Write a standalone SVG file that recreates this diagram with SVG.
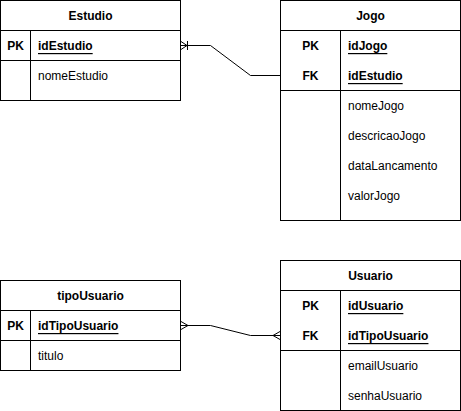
<svg xmlns="http://www.w3.org/2000/svg" width="461" height="411" viewBox="0 0 461 411">
<style>
.box{fill:#fff;stroke:#000;stroke-width:1}
.ln{stroke:#000;stroke-width:1;fill:none}
text{font-family:"Liberation Sans",Arial,sans-serif;font-size:12px;fill:#000;dominant-baseline:central}
.h{font-weight:bold;text-anchor:middle}
.k{font-weight:bold;text-anchor:middle}
.pk{font-weight:bold;text-decoration:underline}
</style>
<rect width="461" height="411" fill="#fff"/>
<g id="connectors">
<polyline class="ln" points="180.5,45.5 210.5,45.5 250.5,75.5 280.5,75.5"/>
<polyline class="ln" points="181,41.5 187,45.5 181,49.5"/>
<line class="ln" x1="187.5" y1="41" x2="187.5" y2="50"/>
<polyline class="ln" points="180.5,325.5 210.5,325.5 250.5,335.5 280.5,335.5"/>
<polyline class="ln" points="181,321.5 188,325.5 181,329.5"/>
<polyline class="ln" points="280,331.5 273,335.5 280,339.5"/>
</g>
<g id="Estudio">
<rect class="box" x="0.5" y="0.5" width="180" height="100"/>
<line class="ln" x1="0.5" y1="30.5" x2="180.5" y2="30.5"/>
<line class="ln" x1="0.5" y1="60.5" x2="180.5" y2="60.5"/>
<line class="ln" x1="30.5" y1="30.5" x2="30.5" y2="100.5"/>
<text class="h" x="90.5" y="16">Estudio</text>
<text class="k" x="15.5" y="46">PK</text>
<text class="pk" x="38" y="46">idEstudio</text>
<text x="38" y="76">nomeEstudio</text>
</g>
<g id="Jogo">
<rect class="box" x="280.5" y="0.5" width="180" height="220"/>
<line class="ln" x1="280.5" y1="30.5" x2="460.5" y2="30.5"/>
<line class="ln" x1="280.5" y1="90.5" x2="460.5" y2="90.5"/>
<line class="ln" x1="340.5" y1="30.5" x2="340.5" y2="220.5"/>
<text class="h" x="370.5" y="16">Jogo</text>
<text class="k" x="310.5" y="46">PK</text>
<text class="pk" x="348" y="46">idJogo</text>
<text class="k" x="310.5" y="76">FK</text>
<text class="pk" x="348" y="76">idEstudio</text>
<text x="348" y="106">nomeJogo</text>
<text x="348" y="136">descricaoJogo</text>
<text x="348" y="166">dataLancamento</text>
<text x="348" y="196">valorJogo</text>
</g>
<g id="tipoUsuario">
<rect class="box" x="0.5" y="280.5" width="180" height="90"/>
<line class="ln" x1="0.5" y1="310.5" x2="180.5" y2="310.5"/>
<line class="ln" x1="0.5" y1="340.5" x2="180.5" y2="340.5"/>
<line class="ln" x1="30.5" y1="310.5" x2="30.5" y2="370.5"/>
<text class="h" x="90.5" y="296">tipoUsuario</text>
<text class="k" x="15.5" y="326">PK</text>
<text class="pk" x="38" y="326">idTipoUsuario</text>
<text x="38" y="356">titulo</text>
</g>
<g id="Usuario">
<rect class="box" x="280.5" y="260.5" width="180" height="150"/>
<line class="ln" x1="280.5" y1="290.5" x2="460.5" y2="290.5"/>
<line class="ln" x1="280.5" y1="350.5" x2="460.5" y2="350.5"/>
<line class="ln" x1="340.5" y1="290.5" x2="340.5" y2="410.5"/>
<text class="h" x="370.5" y="276">Usuario</text>
<text class="k" x="310.5" y="306">PK</text>
<text class="pk" x="348" y="306">idUsuario</text>
<text class="k" x="310.5" y="336">FK</text>
<text class="pk" x="348" y="336">idTipoUsuario</text>
<text x="348" y="366">emailUsuario</text>
<text x="348" y="396">senhaUsuario</text>
</g>
</svg>
